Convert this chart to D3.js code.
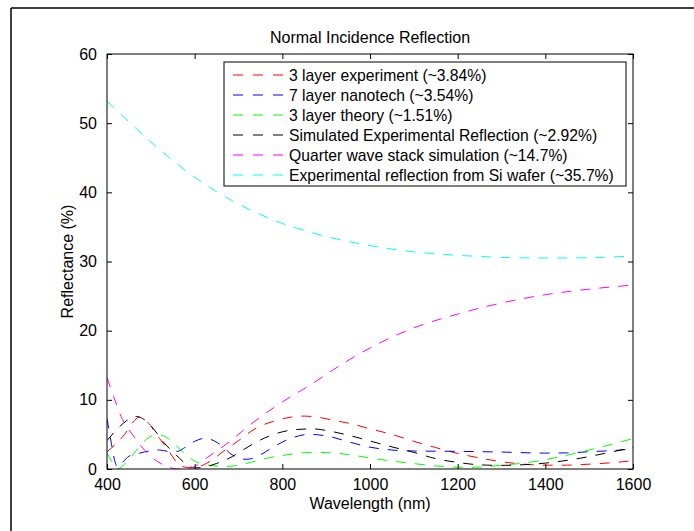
<!DOCTYPE html>
<html lang="en">
<head>
<meta charset="UTF-8">
<script src="https://d3js.org/d3.v7.min.js"></script>
<title>Normal Incidence Reflection</title>
<style>
  body { margin: 0; background: #fff; }
  text { font-family: "Liberation Sans", Arial, sans-serif; fill: #000; }
</style>
</head>
<body>
<div id="chart"></div>
<script>
// wavelength (nm) / reflectance (%) pairs
const redX   = [400,420,440,460,472,490,520,540,560,580,600,620,640,660,700,740,780,820,850,880,920,960,1000,1050,1100,1150,1200,1250,1300,1350,1400,1450,1500,1550,1600];
const redY   = [2.5,3.6,5.0,6.8,7.45,6.9,4.4,2.7,0.9,0.25,0.2,0.6,1.3,2.3,4.1,5.9,6.9,7.5,7.65,7.5,7.0,6.5,5.8,5.0,4.0,3.1,2.25,1.6,1.05,0.7,0.55,0.56,0.7,0.9,1.2];

const blueX  = [400,410,420,425,435,450,475,500,520,540,560,580,600,625,645,665,680,700,715,730,750,780,820,860,900,950,1000,1050,1100,1200,1300,1400,1450,1500,1550,1600];
const blueY  = [7.3,3.7,0.7,0.3,0.9,1.85,2.3,2.65,2.75,2.55,2.55,3.2,4.0,4.45,4.05,3.2,2.3,1.6,1.4,1.5,2.05,3.2,4.45,5.0,4.8,3.95,3.15,2.75,2.6,2.55,2.45,2.3,2.33,2.5,2.65,2.9];

const greenX = [400,412,425,435,450,470,490,510,525,540,555,575,595,615,640,670,700,730,760,800,850,880,920,960,1000,1050,1100,1150,1200,1230,1260,1300,1350,1400,1450,1500,1550,1600];
const greenY = [2.3,1.0,0.05,0.4,1.4,2.9,4.3,4.9,4.85,4.4,3.5,2.4,1.35,0.75,0.5,0.35,0.55,1.0,1.5,1.95,2.35,2.4,2.3,2.0,1.6,1.15,0.78,0.45,0.26,0.24,0.32,0.55,0.85,1.35,2.0,2.75,3.55,4.4];

const blackX = [400,430,450,467,490,510,530,555,575,600,620,650,680,710,750,790,830,870,910,950,1000,1050,1100,1150,1200,1250,1300,1350,1400,1450,1500,1550,1600];
const blackY = [4.1,6.2,7.2,7.6,6.9,5.5,3.8,2.2,1.0,0.15,0.25,0.8,1.6,2.75,4.2,5.2,5.7,5.8,5.45,4.9,4.05,3.2,2.4,1.5,0.95,0.6,0.52,0.62,0.85,1.25,1.8,2.45,3.1];

const magentaX = [400,415,432,459,486,516,540,560,580,600,625,670,735,800,865,915,1000,1100,1200,1300,1400,1500,1600];
const magentaY = [13.2,10.5,7.6,4.9,2.7,1.05,0.3,0.0,0.05,0.35,1.5,3.5,6.8,9.7,12.2,14.3,17.5,20.4,22.4,24.0,25.2,26.0,26.6];

const cyanX  = [400,450,500,550,600,650,700,750,800,850,900,950,1000,1100,1200,1300,1400,1500,1600];
const cyanY  = [53.2,50.2,47.3,44.6,42.2,40.1,38.3,36.8,35.5,34.5,33.6,32.9,32.3,31.4,30.9,30.6,30.5,30.55,30.8];

const seriesNames = [
  "3 layer experiment (~3.84%)",
  "7 layer nanotech (~3.54%)",
  "3 layer theory (~1.51%)",
  "Simulated Experimental Reflection (~2.92%)",
  "Quarter wave stack simulation (~14.7%)",
  "Experimental reflection from Si wafer (~35.7%)"
];
const seriesColors = ["#ff0000", "#0000ff", "#00ff00", "#000000", "#ff00ff", "#00ffff"];
const seriesX = [redX, blueX, greenX, blackX, magentaX, cyanX];
const seriesY = [redY, blueY, greenY, blackY, magentaY, cyanY];

const xTicks = [400, 600, 800, 1000, 1200, 1400, 1600];
const yTicks = [0, 10, 20, 30, 40, 50, 60];

const W = 694, H = 531;
const margin = {top: 54, right: 61, bottom: 62, left: 107};
const width = W - margin.left - margin.right,
      height = H - margin.top - margin.bottom;

const svg = d3.select("#chart").append("svg")
  .attr("width", W).attr("height", H);

// figure frame
svg.append("line").attr("x1", 11).attr("y1", 8).attr("x2", W).attr("y2", 8)
  .attr("stroke", "#000").attr("stroke-width", 1.5);
svg.append("line").attr("x1", 11).attr("y1", 8).attr("x2", 11).attr("y2", H)
  .attr("stroke", "#000").attr("stroke-width", 1.5);

const g = svg.append("g").attr("transform", "translate(" + margin.left + "," + margin.top + ")");

const x = d3.scaleLinear().domain([400, 1600]).range([0, width]);
const y = d3.scaleLinear().domain([0, 60]).range([height, 0]);

g.append("clipPath").attr("id", "clip")
  .append("rect").attr("width", width).attr("height", height);

// curves
const line = d3.line()
  .x(d => x(d[0])).y(d => y(d[1]))
  .curve(d3.curveMonotoneX);

const plot = g.append("g").attr("clip-path", "url(#clip)");
seriesX.forEach((xs, i) => {
  const pts = xs.map((v, j) => [v, seriesY[i][j]]);
  plot.append("path").datum(pts)
    .attr("d", line)
    .attr("fill", "none")
    .attr("stroke", seriesColors[i])
    .attr("stroke-width", 1)
    .attr("stroke-dasharray", "10,9");
});

// axes: ticks inside on all four sides, MATLAB style
const tl = 5;
const fmt = d3.format("d");
g.append("g").attr("transform", "translate(0," + height + ")")
  .call(d3.axisBottom(x).tickValues(xTicks).tickFormat(fmt).tickSize(-tl).tickPadding(tl + 5))
  .call(a => a.select(".domain").remove());
g.append("g")
  .call(d3.axisTop(x).tickValues(xTicks).tickSize(-tl).tickFormat(""))
  .call(a => a.select(".domain").remove());
g.append("g")
  .call(d3.axisLeft(y).tickValues(yTicks).tickFormat(fmt).tickSize(-tl).tickPadding(tl + 5))
  .call(a => a.select(".domain").remove());
g.append("g").attr("transform", "translate(" + width + ",0)")
  .call(d3.axisRight(y).tickValues(yTicks).tickSize(-tl).tickFormat(""))
  .call(a => a.select(".domain").remove());

g.selectAll(".tick text").style("font-size", "16px").style("font-family", "Liberation Sans, Arial, sans-serif").attr("fill", "#000");
g.selectAll(".tick line").attr("stroke", "#000");

g.append("rect").attr("width", width).attr("height", height)
  .attr("fill", "none").attr("stroke", "#000").attr("stroke-width", 1);

// labels
g.append("text").attr("x", width / 2).attr("y", -11)
  .attr("text-anchor", "middle").style("font-size", "16px")
  .text("Normal Incidence Reflection");
g.append("text").attr("x", width / 2).attr("y", height + 40)
  .attr("text-anchor", "middle").style("font-size", "16px")
  .text("Wavelength (nm)");
g.append("text").attr("transform", "rotate(-90)")
  .attr("x", -height / 2).attr("y", -34)
  .attr("text-anchor", "middle").style("font-size", "16px")
  .text("Reflectance (%)");

// legend
const lg = svg.append("g").attr("transform", "translate(224,62)");
lg.append("rect").attr("width", 402).attr("height", 124)
  .attr("fill", "#fff").attr("stroke", "#000").attr("stroke-width", 1);
seriesNames.forEach((name, i) => {
  const ry = 13 + i * 20;
  lg.append("line").attr("x1", 9).attr("x2", 59).attr("y1", ry).attr("y2", ry)
    .attr("stroke", seriesColors[i]).attr("stroke-width", 1)
    .attr("stroke-dasharray", "10,10");
  lg.append("text").attr("x", 65).attr("y", ry + 5.5)
    .style("font-size", "15.7px").text(name);
});
</script>
</body>
</html>
